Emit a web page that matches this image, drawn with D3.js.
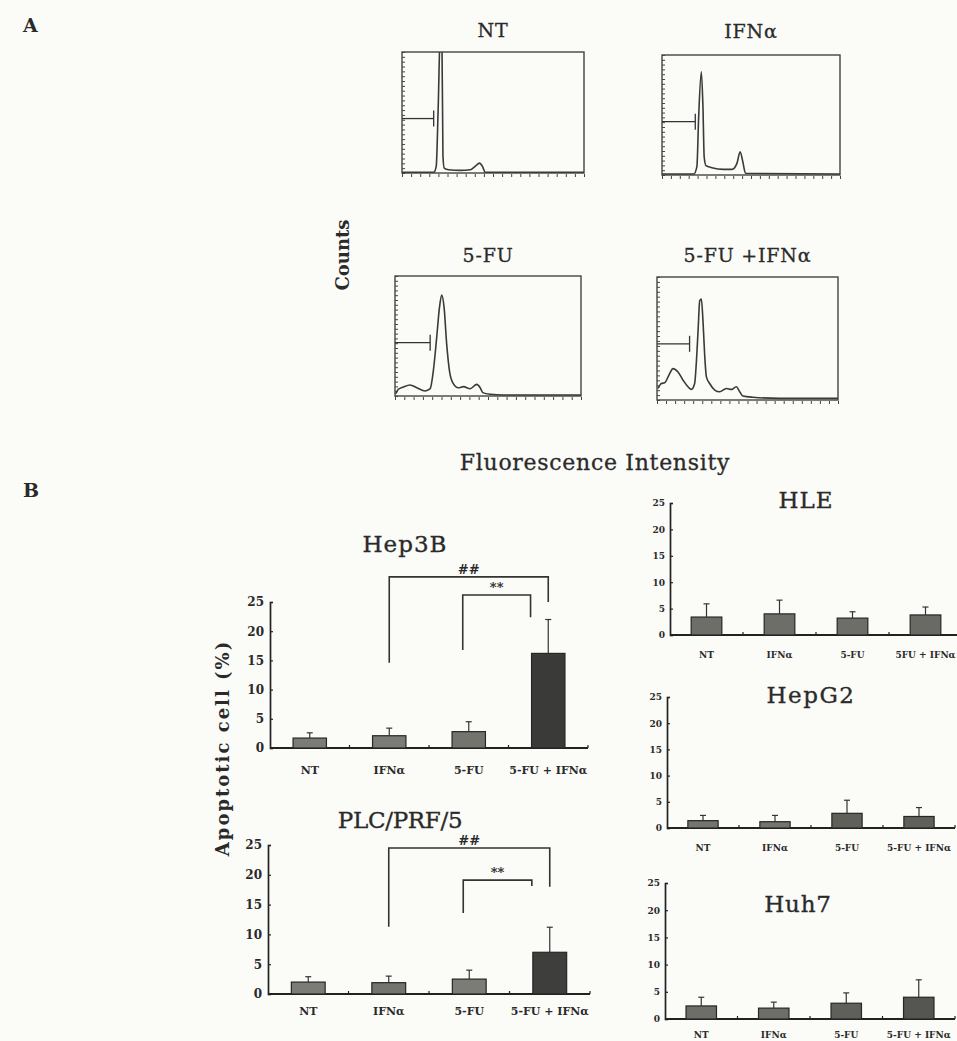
<!DOCTYPE html>
<html>
<head>
<meta charset="utf-8">
<script src="https://cdn.jsdelivr.net/npm/d3@7"></script>
<style>
  body { margin: 0; background: #fbfbf8; }
  svg { display: block; font-family: "DejaVu Serif", "Liberation Serif", serif; }
</style>
</head>
<body>
<svg id="chart" width="957" height="1041"></svg>
<script>
// ---- panel A: DNA histograms (x = % of channel range, y = % of full-scale counts)
const histTitles = ['NT', 'IFNα', '5-FU', '5-FU +IFNα'];
const histNT = [[0,0.5],[17.4,0.5],[18.8,5.5],[19.9,55],[21.0,115],[21.9,115],[22.5,14],[23.2,4],[25.6,2.7],[32,2.2],[37.5,2.7],[40.2,5.5],[42.6,8.2],[44.2,5.5],[45.7,0.5],[100,0.5]];
const histIFN = [[0,0.8],[17.8,0.8],[19.6,7],[20.6,48.6],[22.1,86],[23.0,57],[23.7,15],[24.7,7.8],[28.0,6.1],[34.6,4.7],[39.3,4.7],[42.1,9.7],[43.9,19.4],[45.4,11],[46.9,1.4],[100,0.8]];
const hist5FU = [[0.4,1.9],[1.8,5.6],[4.5,7.5],[8.1,9.2],[11.7,6.9],[16.2,4.2],[18.9,6.1],[20.6,20.8],[22.4,48.6],[23.9,73.6],[25.1,84.2],[26.4,73.6],[27.8,43],[29.3,20.8],[31.1,11],[34.1,6.9],[36.8,7.8],[40.4,6.1],[44,9.7],[45.8,6.9],[47.2,2.8],[51.2,1.4],[58.3,0.8],[100,0.8]];
const hist5FUIFN = [[0.6,9.4],[2.4,13.4],[4.2,14],[7.0,21.5],[8.8,25.5],[11.6,22.8],[14.4,16.1],[17.1,10.8],[19.0,8.6],[20.8,13.4],[21.7,29.6],[22.7,56.5],[23.6,80.6],[24.5,82],[25.4,64.5],[26.3,37.6],[27.3,18.8],[29.1,13.4],[31.9,8.1],[34.6,6.7],[38.3,9.4],[41.1,8.6],[43.8,10.8],[45.7,6.7],[47.5,3.2],[53,2.2],[67.8,1.3],[100,1.3]];
const histGateLevel = [45, 44.4, 44.4, 45.7];
const histGateEnd = [17.4, 18.7, 18.9, 18];

// ---- panel B: apoptotic cells (%), mean and SD
const barCategories = ['NT', 'IFNα', '5-FU', '5-FU + IFNα'];
const barLabelsHLE = ['NT', 'IFNα', '5-FU', '5FU + IFNα'];
const yTicks = [0, 5, 10, 15, 20, 25];
const hep3bMean = [1.7, 2.1, 2.8, 16.2];
const hep3bSD = [0.9, 1.3, 1.7, 5.8];
const plcMean = [2.0, 1.9, 2.5, 7.0];
const plcSD = [0.9, 1.1, 1.5, 4.2];
const hleMean = [3.4, 4.0, 3.2, 3.8];
const hleSD = [2.5, 2.6, 1.2, 1.5];
const hepg2Mean = [1.4, 1.2, 2.8, 2.2];
const hepg2SD = [1.0, 1.2, 2.5, 1.7];
const huh7Mean = [2.4, 2.0, 2.9, 4.0];
const huh7SD = [1.6, 1.1, 1.9, 3.2];
const hep3bBrackets = [
  { from: 'IFNα', to: '5-FU + IFNα', label: '##', top: 29.3, fromEnd: 14.6, toEnd: 25.0 },
  { from: '5-FU', to: '5-FU + IFNα', label: '**', top: 26.2, fromEnd: 16.8, toEnd: 22.4 }
];
const plcBrackets = [
  { from: 'IFNα', to: '5-FU + IFNα', label: '##', top: 24.5, fromEnd: 11.3, toEnd: 18.0 },
  { from: '5-FU', to: '5-FU + IFNα', label: '**', top: 19.1, fromEnd: 13.6, toEnd: 18.1 }
];

const ink = '#2a2a2a';
const svg = d3.select('#chart');

function drawHist(i, pts, box, titleY) {
  const x = d3.scaleLinear().domain([0, 100]).range([box.x0, box.x1]);
  const y = d3.scaleLinear().domain([0, 100]).range([box.y1, box.y0]);
  const g = svg.append('g');

  g.append('clipPath').attr('id', 'hclip' + i)
    .append('rect').attr('x', box.x0).attr('y', box.y0)
    .attr('width', box.x1 - box.x0).attr('height', box.y1 - box.y0);

  g.append('rect')
    .attr('x', box.x0).attr('y', box.y0)
    .attr('width', box.x1 - box.x0).attr('height', box.y1 - box.y0)
    .attr('fill', 'none').attr('stroke', '#444').attr('stroke-width', 1.4);

  g.append('path').datum(pts)
    .attr('clip-path', 'url(#hclip' + i + ')')
    .attr('d', d3.line().x(d => x(d[0])).y(d => y(d[1])).curve(d3.curveMonotoneX))
    .attr('fill', 'none').attr('stroke', '#3a3a3a').attr('stroke-width', 1.6);

  // gate marker
  const gy = y(histGateLevel[i]);
  g.append('line').attr('x1', x(0)).attr('x2', x(histGateEnd[i]))
    .attr('y1', gy).attr('y2', gy).attr('stroke', '#333').attr('stroke-width', 1.3);
  g.append('line').attr('x1', x(histGateEnd[i])).attr('x2', x(histGateEnd[i]))
    .attr('y1', gy - 8).attr('y2', gy + 8).attr('stroke', '#333').attr('stroke-width', 1.3);

  // tick marks
  g.append('g').attr('transform', `translate(0,${box.y1 + 1})`)
    .call(d3.axisBottom(x).tickValues(d3.range(0, 101, 5)).tickSize(3).tickFormat(''))
    .call(a => a.select('.domain').remove())
    .call(a => a.selectAll('line').attr('stroke', '#444'));
  g.append('g').attr('transform', `translate(${box.x0},0)`)
    .call(d3.axisRight(y).tickValues(d3.range(0, 101, 4)).tickSize(3).tickFormat(''))
    .call(a => a.select('.domain').remove())
    .call(a => a.selectAll('line').attr('stroke', '#444'));

  g.append('text').attr('x', (box.x0 + box.x1) / 2).attr('y', titleY)
    .attr('text-anchor', 'middle').attr('font-size', 19).attr('letter-spacing', 0.8)
    .attr('fill', ink).attr('stroke', ink).attr('stroke-width', 0.3).text(histTitles[i]);
}

drawHist(0, histNT, { x0: 402, x1: 584, y0: 52, y1: 173 }, 37);
drawHist(1, histIFN, { x0: 662, x1: 840, y0: 55, y1: 175 }, 38);
drawHist(2, hist5FU, { x0: 395, x1: 581, y0: 276, y1: 396 }, 262);
drawHist(3, hist5FUIFN, { x0: 657, x1: 838, y0: 277, y1: 400 }, 262);

svg.append('text').attr('x', 23).attr('y', 32).attr('font-size', 19)
  .attr('font-weight', 'bold').attr('fill', ink).text('A');
svg.append('text').attr('x', 23).attr('y', 497).attr('font-size', 19)
  .attr('font-weight', 'bold').attr('fill', ink).text('B');
svg.append('text').attr('transform', 'translate(349,255) rotate(-90)')
  .attr('text-anchor', 'middle').attr('font-size', 18).attr('font-weight', 'bold')
  .attr('fill', ink).text('Counts');
svg.append('text').attr('x', 595).attr('y', 470).attr('text-anchor', 'middle')
  .attr('font-size', 22).attr('letter-spacing', 0.7).attr('fill', ink)
  .attr('stroke', ink).attr('stroke-width', 0.3).text('Fluorescence Intensity');
svg.append('text').attr('transform', 'translate(229,748) rotate(-90)')
  .attr('text-anchor', 'middle').attr('font-size', 18).attr('font-weight', 'bold')
  .attr('letter-spacing', 2).attr('fill', ink).text('Apoptotic cell (%)');

function drawBars(cfg, means, sds, labels, brackets) {
  const x = d3.scaleBand().domain(barCategories).range([cfg.x0, cfg.x1])
    .paddingInner(0.58).paddingOuter(0.29);
  const y = d3.scaleLinear().domain([0, 25]).range([cfg.y0, cfg.y25]);
  const bw = x.bandwidth();
  const cx = c => x(c) + bw / 2;
  const g = svg.append('g');

  g.append('g').attr('transform', `translate(${cfg.x0},0)`)
    .call(d3.axisLeft(y).tickValues(yTicks).tickSize(-3).tickPadding(cfg.pad))
    .call(a => a.attr('font-family', null))
    .call(a => a.select('.domain').attr('stroke', '#222').attr('stroke-width', 1.7))
    .call(a => a.selectAll('line').attr('stroke', '#222').attr('stroke-width', 1.2))
    .call(a => a.selectAll('text').attr('font-size', cfg.tickFont)
      .attr('font-weight', 'bold').attr('fill', ink));

  // baseline with boundary ticks
  g.append('line').attr('x1', cfg.x0).attr('x2', cfg.x1)
    .attr('y1', y(0)).attr('y2', y(0)).attr('stroke', '#222').attr('stroke-width', 1.9);
  g.selectAll('.sep').data(d3.range(1, barCategories.length + 1)).enter()
    .append('line')
    .attr('x1', k => cfg.x0 + k * x.step()).attr('x2', k => cfg.x0 + k * x.step())
    .attr('y1', y(0)).attr('y2', y(0) - 3).attr('stroke', '#222').attr('stroke-width', 1.2);

  g.selectAll('.bar').data(barCategories).enter().append('rect')
    .attr('x', d => x(d)).attr('width', bw)
    .attr('y', (d, i) => y(means[i])).attr('height', (d, i) => y(0) - y(means[i]))
    .attr('fill', (d, i) => cfg.fills[i]).attr('stroke', '#262626').attr('stroke-width', 1.2);

  g.selectAll('.err').data(barCategories).enter().append('line')
    .attr('x1', d => cx(d)).attr('x2', d => cx(d))
    .attr('y1', (d, i) => y(means[i])).attr('y2', (d, i) => y(means[i] + sds[i]))
    .attr('stroke', '#333').attr('stroke-width', 1.2);
  g.selectAll('.cap').data(barCategories).enter().append('line')
    .attr('x1', d => cx(d) - 3).attr('x2', d => cx(d) + 3)
    .attr('y1', (d, i) => y(means[i] + sds[i])).attr('y2', (d, i) => y(means[i] + sds[i]))
    .attr('stroke', '#333').attr('stroke-width', 1.2);

  g.selectAll('.lab').data(barCategories).enter().append('text')
    .attr('x', d => cx(d)).attr('y', cfg.labelY).attr('text-anchor', 'middle')
    .attr('font-size', cfg.labelFont).attr('font-weight', 'bold').attr('fill', ink)
    .text((d, i) => labels[i]);

  g.append('text').attr('x', cfg.titleX).attr('y', cfg.titleY).attr('text-anchor', 'middle')
    .attr('font-size', 23).attr('letter-spacing', cfg.titleSpacing).attr('fill', ink)
    .attr('stroke', ink).attr('stroke-width', 0.35).text(cfg.title);

  (brackets || []).forEach((b, i) => {
    const lx = cx(b.from) - (i === 0 ? 0 : 6);
    const rx = i === 0 ? cx(b.to) : x(b.to) - 1;
    g.append('path')
      .attr('d', `M${lx},${y(b.fromEnd)}V${y(b.top)}H${rx}V${y(b.toEnd)}`)
      .attr('fill', 'none').attr('stroke', '#333').attr('stroke-width', 1.6);
    g.append('text').attr('x', (lx + rx) / 2).attr('y', y(b.top) - 3)
      .attr('text-anchor', 'middle').attr('font-size', 13).attr('font-weight', 'bold')
      .attr('fill', ink).text(b.label);
  });
}

drawBars({ x0: 270, x1: 588, y0: 748, y25: 602, pad: 6, tickFont: 12, labelFont: 11, labelY: 774,
  title: 'Hep3B', titleX: 405, titleY: 552, titleSpacing: 1,
  fills: ['#7c7c76', '#7c7c76', '#74746e', '#3a3a38'] },
  hep3bMean, hep3bSD, barCategories, hep3bBrackets);

drawBars({ x0: 268, x1: 590, y0: 994, y25: 845, pad: 6, tickFont: 12, labelFont: 11, labelY: 1015,
  title: 'PLC/PRF/5', titleX: 400, titleY: 828, titleSpacing: -0.3,
  fills: ['#7c7c76', '#74746e', '#7c7c76', '#3e3e3c'] },
  plcMean, plcSD, barCategories, plcBrackets);

drawBars({ x0: 670, x1: 962, y0: 635, y25: 503, pad: 5, tickFont: 9, labelFont: 9, labelY: 658,
  title: 'HLE', titleX: 806, titleY: 508, titleSpacing: 1,
  fills: ['#6e6e69', '#6e6e69', '#6e6e69', '#6a6a65'] },
  hleMean, hleSD, barLabelsHLE, null);

drawBars({ x0: 667, x1: 955, y0: 828, y25: 697, pad: 5, tickFont: 9, labelFont: 9, labelY: 851,
  title: 'HepG2', titleX: 811, titleY: 703, titleSpacing: 1.5,
  fills: ['#75756f', '#75756f', '#60605b', '#60605b'] },
  hepg2Mean, hepg2SD, barCategories, null);

drawBars({ x0: 665, x1: 955, y0: 1019, y25: 883, pad: 5, tickFont: 9, labelFont: 9, labelY: 1038,
  title: 'Huh7', titleX: 798, titleY: 912, titleSpacing: 0.8,
  fills: ['#6e6e69', '#6e6e69', '#60605b', '#555551'] },
  huh7Mean, huh7SD, barCategories, null);
</script>
</body>
</html>
